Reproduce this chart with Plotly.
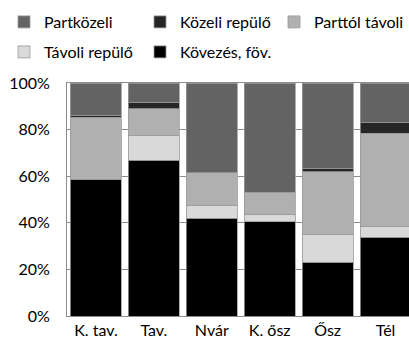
import plotly.graph_objects as go

# Seasons on the category axis
categories = ["K. tav.", "Tav.", "Nvár", "K. ősz", "Ősz", "Tél"]

# Share of each activity per season (percent), stacked bottom to top
kovezes_fov = [58.7, 66.8, 41.9, 40.5, 23.1, 33.7]
tavoli_repulo = [0.0, 10.5, 5.5, 3.1, 12.0, 4.5]
parttol_tavoli = [26.7, 11.7, 14.0, 9.2, 26.8, 40.3]
kozeli_repulo = [0.5, 2.6, 0.0, 0.3, 1.4, 4.5]
partkozeli = [14.1, 8.4, 38.6, 46.9, 36.7, 17.0]

y_ticks = [0, 20, 40, 60, 80, 100]
y_tick_labels = ["0%", "20%", "40%", "60%", "80%", "100%"]

# name, values, colour, legend id, legend position (px from left, px from top)
series = [
    ("Kövezés, föv.", kovezes_fov, "#000000", "legend5", (140, 35)),
    ("Távoli repülő", tavoli_repulo, "#d9d9d9", "legend4", (4, 35)),
    ("Parttól távoli", parttol_tavoli, "#b0b0b0", "legend3", (274, 5)),
    ("Közeli repülő", kozeli_repulo, "#262626", "legend2", (140, 5)),
    ("Partközeli", partkozeli, "#636363", "legend", (4, 5)),
]

FONT = "Lato, 'Open Sans', sans-serif"
W, H = 409, 340

fig = go.Figure()
legend_layout = {}
for name, vals, color, leg, (lx, ly) in series:
    fig.add_trace(go.Bar(
        name=name,
        x=categories,
        y=vals,
        legend=leg,
        marker=dict(color=color, line=dict(color="#9a9a9a", width=0.8)),
    ))
    legend_layout[leg] = dict(
        xref="container",
        yref="container",
        x=lx / W,
        y=1 - ly / H,
        xanchor="left",
        yanchor="top",
        orientation="h",
        itemwidth=30,
        font=dict(family=FONT, size=16, color="#000000"),
        bgcolor="rgba(0,0,0,0)",
        borderwidth=0,
    )

fig.update_layout(
    width=W,
    height=H,
    barmode="stack",
    bargap=0.12,
    paper_bgcolor="white",
    plot_bgcolor="white",
    margin=dict(l=67, r=0, t=83, b=24, autoexpand=False),
    font=dict(family=FONT, size=16, color="#000000"),
    showlegend=True,
    xaxis=dict(
        range=[-0.5, 5.405],
        showgrid=False,
        showline=True,
        linecolor="#8c8c8c",
        linewidth=1,
        mirror=True,
        ticks="",
        tickfont=dict(family=FONT, size=16),
    ),
    yaxis=dict(
        range=[0, 100],
        tickvals=y_ticks,
        ticktext=y_tick_labels,
        showgrid=True,
        gridcolor="#8c8c8c",
        gridwidth=1,
        showline=True,
        linecolor="#8c8c8c",
        linewidth=1,
        ticks="",
        ticklabelstandoff=13,
        tickfont=dict(family=FONT, size=16),
        zeroline=False,
    ),
    **legend_layout,
)

fig.write_html("out.html")
